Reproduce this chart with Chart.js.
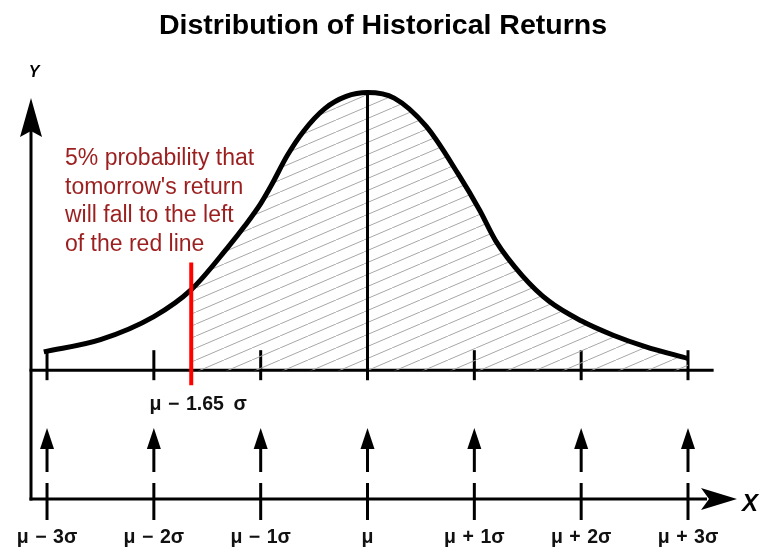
<!DOCTYPE html>
<html>
<head>
<meta charset="utf-8">
<title>Distribution of Historical Returns</title>
<script src="https://cdn.jsdelivr.net/npm/chart.js@4.4.0/dist/chart.umd.min.js"></script>
<style>
  html, body { margin: 0; padding: 0; background: #fff; }
</style>
</head>
<body>
<canvas id="distChart" width="770" height="555"></canvas>
<script>
// curve: x in sigma units, y = height in % of the peak
var curveX = [-3.03, -2.5, -2, -1.65, -1.3, -1.15, -1, -0.9, -0.75, -0.6, -0.4, -0.2, 0, 0.25, 0.55, 0.85, 1.05, 1.2, 1.45, 1.7, 2, 2.3, 2.6, 3];
var curveY = [6.6, 11.0, 19.3, 29.0, 44.6, 51.9, 60.0, 66.6, 77.4, 86.0, 94.2, 98.6, 100, 98, 87.8, 70.6, 57.6, 46.6, 34.0, 24.8, 17.8, 12.6, 8.5, 4.2];

var sigmaTicks = [-3, -2, -1, 0, 1, 2, 3];
var tickLabels = ['μ\u2004−\u20043σ', 'μ\u2004−\u20042σ', 'μ\u2004−\u20041σ', 'μ', 'μ\u2004+\u20041σ', 'μ\u2004+\u20042σ', 'μ\u2004+\u20043σ'];

var cutoff = -1.65;
var cutoffLabel = 'μ\u2004−\u20041.65\u2002σ';
var noteLines = ['5% probability that', "tomorrow's return", 'will fall to the left', 'of the red line'];

var FONT = "'Liberation Sans', Arial, Helvetica, sans-serif";
Chart.defaults.font.family = FONT;

// ------- build the datasets ---------- //

var curvePts = [];
var tailPts = [];
for (var i = 0; i < curveX.length; i++) {
    curvePts.push({x: curveX[i], y: curveY[i]});
    if (curveX[i] >= cutoff) {
        tailPts.push({x: curveX[i], y: curveY[i]});
    }
}

var canvas = document.getElementById('distChart');
var ctx0 = canvas.getContext('2d');

// thin grey diagonal hatching
function makeHatch() {
    var tile = document.createElement('canvas');
    tile.width = 28;
    tile.height = 12;
    var c = tile.getContext('2d');
    c.strokeStyle = '#a8a8a8';
    c.lineWidth = 1;
    c.beginPath();
    c.moveTo(-28, 24);
    c.lineTo(56, -12);
    c.stroke();
    return ctx0.createPattern(tile, 'repeat');
}

function seg(ctx, x1, y1, x2, y2) {
    ctx.beginPath();
    ctx.moveTo(x1, y1);
    ctx.lineTo(x2, y2);
    ctx.stroke();
}

// axes, arrows and small ticks, placed with the chart's scales
var diagramParts = {
    id: 'diagramParts',
    beforeDatasetsDraw: function(chart) {
        var ctx = chart.ctx;
        var xs = chart.scales.x;
        var ys = chart.scales.y;
        var left = xs.getPixelForValue(xs.min);
        var base = ys.getPixelForValue(0);
        var bottom = ys.getPixelForValue(ys.min);
        var yTip = ys.getPixelForValue(98);

        ctx.save();
        ctx.strokeStyle = '#000';
        ctx.fillStyle = '#000';
        ctx.lineWidth = 3;
        ctx.lineCap = 'butt';

        // Y axis + arrow head
        seg(ctx, left, yTip + 30, left, bottom + 1.5);
        ctx.beginPath();
        ctx.moveTo(left, yTip);
        ctx.lineTo(left + 11, yTip + 39);
        ctx.lineTo(left, yTip + 33);
        ctx.lineTo(left - 11, yTip + 39);
        ctx.closePath();
        ctx.fill();

        // upper base line
        seg(ctx, left - 1.5, base, xs.getPixelForValue(3.24), base);

        // lower X axis + arrow head
        var xEnd = xs.right + 2;
        seg(ctx, left - 1.5, bottom, xEnd - 30, bottom);
        ctx.beginPath();
        ctx.moveTo(xEnd, bottom);
        ctx.lineTo(xEnd - 36, bottom - 11);
        ctx.lineTo(xEnd - 28, bottom);
        ctx.lineTo(xEnd - 36, bottom + 11);
        ctx.closePath();
        ctx.fill();

        for (var i = 0; i < sigmaTicks.length; i++) {
            var px = xs.getPixelForValue(sigmaTicks[i]);
            // ticks on the upper line
            if (sigmaTicks[i] !== 0) {
                seg(ctx, px, base - 20, px, base + 10);
            }
            // ticks on the lower axis
            seg(ctx, px, bottom - 16, px, bottom + 21);
            // up arrows
            seg(ctx, px, bottom - 27, px, bottom - 52);
            ctx.beginPath();
            ctx.moveTo(px, bottom - 71);
            ctx.lineTo(px + 7, bottom - 50);
            ctx.lineTo(px - 7, bottom - 50);
            ctx.closePath();
            ctx.fill();
        }
        ctx.restore();
    },
    afterDraw: function(chart) {
        var ctx = chart.ctx;
        var xs = chart.scales.x;
        var ys = chart.scales.y;
        var base = ys.getPixelForValue(0);
        var bottom = ys.getPixelForValue(ys.min);

        ctx.save();
        // label under the red line
        ctx.fillStyle = '#111';
        ctx.font = 'bold 19.5px ' + FONT;
        ctx.textAlign = 'center';
        ctx.textBaseline = 'middle';
        ctx.fillText(cutoffLabel, xs.getPixelForValue(cutoff) + 7, base + 34);

        // axis letters
        ctx.font = 'italic bold 16px ' + FONT;
        ctx.fillStyle = '#000';
        ctx.fillText('Y', xs.getPixelForValue(xs.min) + 3, 73);
        ctx.font = 'italic bold 24px ' + FONT;
        ctx.fillText('X', xs.right + 15, bottom + 5);

        // the note in dark red
        ctx.fillStyle = '#9c1f1f';
        ctx.font = '23px ' + FONT;
        ctx.textAlign = 'left';
        ctx.textBaseline = 'alphabetic';
        for (var i = 0; i < noteLines.length; i++) {
            ctx.fillText(noteLines[i], 65, 165 + i * 28.5);
        }
        ctx.restore();
    }
};

var chart = new Chart(canvas, {
    type: 'line',
    data: {
        datasets: [
            {
                // distribution curve
                data: curvePts,
                borderColor: '#000',
                borderWidth: 5,
                pointRadius: 0,
                cubicInterpolationMode: 'monotone',
                fill: false,
                order: 1
            },
            {
                // hatched right part
                data: tailPts,
                borderWidth: 0,
                borderColor: 'rgba(0,0,0,0)',
                backgroundColor: makeHatch(),
                pointRadius: 0,
                cubicInterpolationMode: 'monotone',
                fill: 'origin',
                order: 4
            },
            {
                // mean line
                data: [{x: 0, y: -3.6}, {x: 0, y: 100}],
                borderColor: '#000',
                borderWidth: 3,
                pointRadius: 0,
                fill: false,
                order: 3
            },
            {
                // red VaR line
                data: [{x: cutoff, y: -5.4}, {x: cutoff, y: 38.8}],
                borderColor: '#ff0000',
                borderWidth: 4,
                pointRadius: 0,
                fill: false,
                order: 0
            }
        ]
    },
    options: {
        responsive: false,
        animation: false,
        layout: { padding: { left: 31, right: 35, top: 0, bottom: 0 } },
        plugins: {
            legend: { display: false },
            tooltip: { enabled: false },
            title: {
                display: true,
                text: 'Distribution of Historical Returns',
                color: '#000',
                font: { size: 28.5, weight: 'bold', family: FONT },
                padding: { top: 9, bottom: 18 }
            }
        },
        scales: {
            x: {
                type: 'linear',
                min: -3.15,
                max: 3.44,
                grid: { display: false, drawTicks: false },
                border: { display: false },
                afterBuildTicks: function(axis) {
                    axis.ticks = sigmaTicks.map(function(v) { return {value: v}; });
                },
                afterFit: function(axis) {
                    axis.height = 56;
                    axis.paddingLeft = 0;
                    axis.paddingRight = 0;
                },
                ticks: {
                    autoSkip: false,
                    maxRotation: 0,
                    padding: 27,
                    color: '#111',
                    font: { size: 19.5, weight: 'bold', family: FONT },
                    callback: function(value) {
                        return tickLabels[sigmaTicks.indexOf(value)];
                    }
                }
            },
            y: {
                type: 'linear',
                display: false,
                min: -46.4,
                max: 111.3
            }
        }
    },
    plugins: [diagramParts]
});
</script>
</body>
</html>
